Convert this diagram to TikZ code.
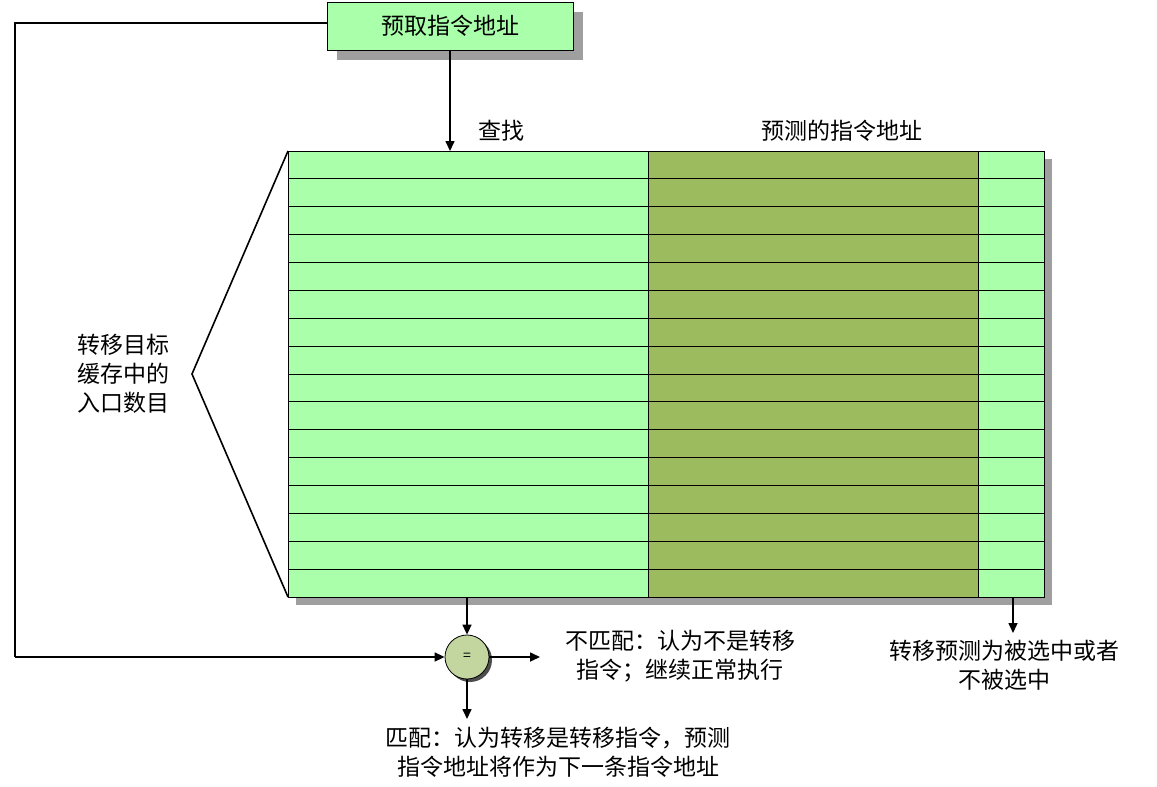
\documentclass[tikz,border=0pt]{standalone}
\usepackage{fontspec}
\setmainfont{Noto Sans CJK SC}
\usetikzlibrary{arrows.meta}
\definecolor{lg}{HTML}{AAFFAA}
\definecolor{og}{HTML}{9BBB5E}
\definecolor{cg}{HTML}{C4D6A0}
\tikzset{x=1pt,y=-1pt,
 txt/.style={font=\fontsize{23}{29}\selectfont,align=center,inner sep=0pt},
 arr/.style={-{Triangle[length=10pt,width=9pt]},line width=1.6pt},
 ln/.style={line width=1.6pt}}
\begin{document}
\begin{tikzpicture}
\useasboundingbox (0,0) rectangle (1157,787);
% table shadow
\fill[gray!75] (296,159) rectangle (1052,605);
\fill[lg] (288,151) rectangle (648,597);
\fill[og] (648,151) rectangle (978,597);
\fill[lg] (978,151) rectangle (1044,597);
\foreach \i in {1,...,15}{\draw[line width=0.8pt] (288,{151+\i*27.875}) -- (1044,{151+\i*27.875});}
\draw[line width=0.8pt] (288,151) rectangle (1044,597);
\draw[line width=0.8pt] (648,151) -- (648,597) (978,151) -- (978,597);
\node (tbl) at (666,374) [minimum width=756pt,minimum height=446pt,inner sep=0pt] {};
% top box
\fill[gray!75] (337,12) rectangle (583,60);
\node (top) at (450,26) [draw,fill=lg,line width=0.8pt,minimum width=246pt,minimum height=48pt,txt] {预取指令地址};
\coordinate (tin) at (450,151);
\draw[arr] (top.south) -- (tin);
\node (cz) at (501,131) [txt] {查找};
\node (yc) at (842,131) [txt] {预测的指令地址};
% brace
\coordinate (b1) at (288,151); \coordinate (b2) at (192,374); \coordinate (b3) at (288,597);
\draw[ln] (b1) -- (b2) -- (b3);
\node (lt) at (123,374) [txt] {转移目标\\缓存中的\\入口数目};
% circle
\fill[black!70] (470,660) circle (22);
\node (eq) at (467,657) [circle,draw,fill=cg,line width=0.8pt,minimum size=44pt,inner sep=0pt,font=\fontsize{14}{14}\selectfont] {=};
\coordinate (t1) at (467,597);
\draw[arr] (t1) -- (eq.north);
\coordinate (l1) at (15,23); \coordinate (l2) at (15,657);
\draw[ln] (top.west |- 0,23) -- (l1) -- (l2);
\draw[arr] (l2) -- (eq.west);
\coordinate (r1) at (540,657);
\draw[arr] (eq.east) -- (r1);
\coordinate (d1) at (467,719);
\draw[arr] (eq.south) -- (d1);
\node (nm) at (680,656) [txt] {不匹配：认为不是转移\\指令；继续正常执行};
\node (m) at (558,752) [txt] {匹配：认为转移是转移指令，预测\\指令地址将作为下一条指令地址};
\coordinate (s1) at (1013,597); \coordinate (s2) at (1013,633);
\draw[arr] (s1) -- (s2);
\node (sel) at (1004,665) [txt] {转移预测为被选中或者\\不被选中};
\end{tikzpicture}
\end{document}
